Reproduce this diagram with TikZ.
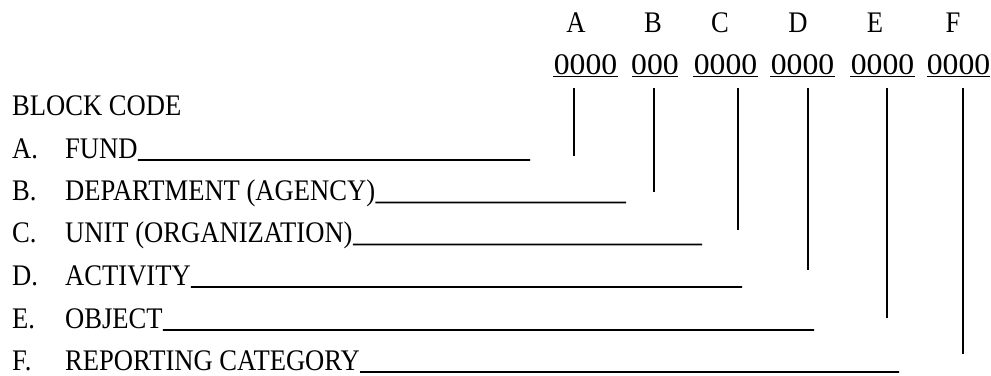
\documentclass[tikz,border=0pt]{standalone}
\usepackage{fontspec}
\setmainfont[FakeStretch=0.89]{Liberation Serif}
\newfontfamily\digitfont[FakeStretch=1.06]{Liberation Serif}
\begin{document}
\begin{tikzpicture}[x=1bp,y=-1bp,
  txt/.style={anchor=base west, inner sep=0pt, font=\fontsize{30}{36}\selectfont},
  hdr/.style={anchor=base, inner sep=0pt, font=\fontsize{30}{36}\selectfont},
  dig/.style={anchor=base, inner sep=0pt, font=\digitfont\fontsize{30}{36}\selectfont},
  rule/.style={line width=1.6bp, line cap=butt}]
\useasboundingbox (0,0) rectangle (991,375);
% header letters
\node[hdr] (hA) at (576,32) {A};
\node[hdr] (hB) at (653,32) {B};
\node[hdr] (hC) at (720,32) {C};
\node[hdr] (hD) at (798,32) {D};
\node[hdr] (hE) at (875,32) {E};
\node[hdr] (hF) at (953,32) {F};
% digit groups
\node[dig] (dA) at (585.5,74) {0000};
\node[dig] (dB) at (655,74) {000};
\node[dig] (dC) at (725.5,74) {0000};
\node[dig] (dD) at (802.5,74) {0000};
\node[dig] (dE) at (882.5,74) {0000};
\node[dig] (dF) at (958.5,74) {0000};
\draw[rule] (553,76.5) -- (618,76.5);
\draw[rule] (632,76.5) -- (678,76.5);
\draw[rule] (693,76.5) -- (758,76.5);
\draw[rule] (770,76.5) -- (835,76.5);
\draw[rule] (850,76.5) -- (915,76.5);
\draw[rule] (927,76.5) -- (990,76.5);
% block code list
\node[txt] (bc) at (12,115) {BLOCK CODE};
\node[txt] (lA) at (12,158) {A.};
\node[txt] (nA) at (65,158) {FUND};
\node[txt] (lB) at (12,200) {B.};
\node[txt] (nB) at (65,200) {DEPARTMENT (AGENCY)};
\node[txt] (lC) at (12,242) {C.};
\node[txt] (nC) at (65,242) {UNIT (ORGANIZATION)};
\node[txt] (lD) at (12,285) {D.};
\node[txt] (nD) at (65,285) {ACTIVITY};
\node[txt] (lE) at (12,328) {E.};
\node[txt] (nE) at (65,328) {OBJECT};
\node[txt] (lF) at (12,370) {F.};
\node[txt] (nF) at (65,370) {REPORTING CATEGORY};
% blank lines
\coordinate (uA) at (530,160);
\coordinate (uB) at (626,202.5);
\coordinate (uC) at (702,244.5);
\coordinate (uD) at (742,287);
\coordinate (uE) at (814,330);
\coordinate (uF) at (899,372);
\draw[rule] ([yshift=-2bp]nA.base east) -- (uA);
\draw[rule] ([yshift=-2.5bp]nB.base east) -- (uB);
\draw[rule] ([yshift=-2.5bp]nC.base east) -- (uC);
\draw[rule] ([yshift=-2bp]nD.base east) -- (uD);
\draw[rule] ([yshift=-2bp]nE.base east) -- (uE);
\draw[rule] ([yshift=-2bp]nF.base east) -- (uF);
% vertical connectors
\coordinate (tA) at (574,88);  \coordinate (eA) at (574,156);
\coordinate (tB) at (654,88);  \coordinate (eB) at (654,192);
\coordinate (tC) at (738,88);  \coordinate (eC) at (738,230);
\coordinate (tD) at (808,88);  \coordinate (eD) at (808,270);
\coordinate (tE) at (887,88);  \coordinate (eE) at (887,318);
\coordinate (tF) at (963,88);  \coordinate (eF) at (963,354);
\foreach \k in {A,B,C,D,E,F} \draw[rule] (t\k) -- (e\k);
\end{tikzpicture}
\end{document}
